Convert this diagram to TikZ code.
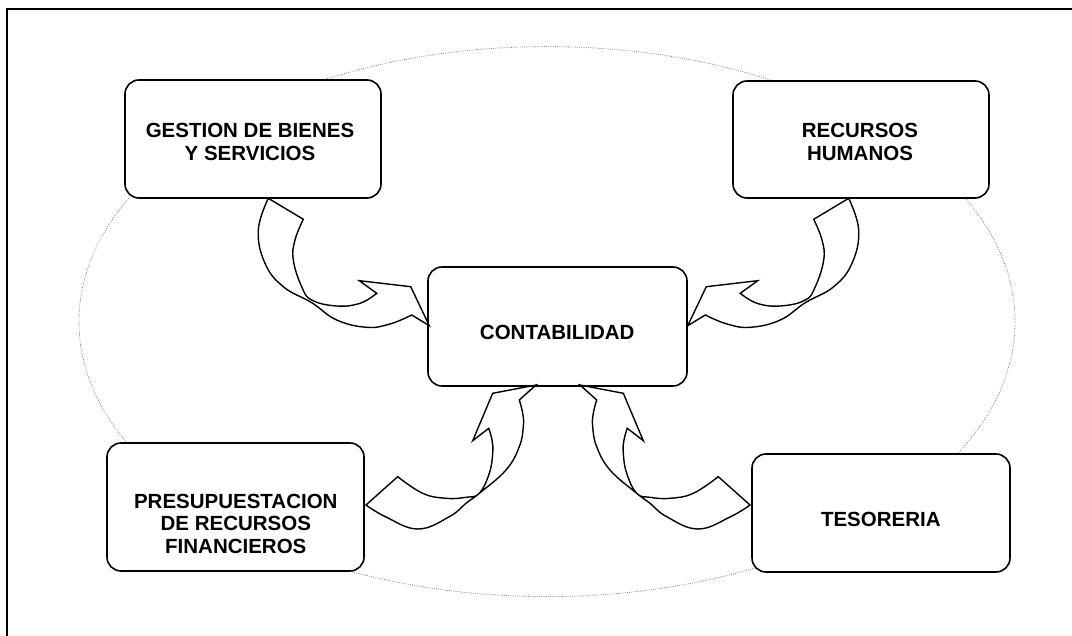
\documentclass[tikz,border=0pt]{standalone}
\usepackage{fontspec}
\setmainfont{Liberation Sans}
\begin{document}
\begin{tikzpicture}[x=1pt,y=-1pt,
  box/.style={draw, line width=1.6pt, rounded corners=14pt, fill=white, inner sep=0pt},
  lbl/.style={font=\bfseries\fontsize{20.5}{22.6}\selectfont, align=center, inner sep=0pt},
  arr/.style={draw, line width=1.4pt, line join=miter},
  arrowone/.pic={
    \path[arr] plot[smooth, tension=0.7] coordinates {(268.3,198.3) (258.3,230) (265,263.3) (283.3,286.7) (311.7,302.7) (336.7,320) (366.7,327.3) (390,324) (411.7,315)}
      -- (429.3,325.7) -- (410.7,286.7) -- (359.3,280.7) -- (376.7,293.3)
      -- plot[smooth, tension=0.7] coordinates {(376.7,293.3) (360,303.3) (336.7,306) (311.7,300) (301.7,286.7) (293.3,260) (295,240) (303.3,219.3)}
      -- cycle;
  },
  arrowtwo/.pic={
    \path[arr] plot[smooth, tension=0.7] coordinates {(750,505) (730,517) (698,529) (666.7,516.7) (650,503.3) (636.7,493.3) (610,470) (596.7,446.7) (592.7,426.7) (593.3,413.3) (596.7,400)}
      -- (580,385) -- (623.3,393.3) -- (643.3,440.7) -- (627.3,428.3)
      -- plot[smooth, tension=0.7] coordinates {(627.3,428.3) (624,440) (623.3,453.3) (626.7,473.3) (636.7,493.3) (650,497.3) (670,498.3) (693.3,493.3) (718.3,476.7)}
      -- cycle;
  }]
\useasboundingbox (0,0) rectangle (1072,636);
\clip (0,0) rectangle (1072,636);
% outer frame
\draw[line width=1.6pt] (7,9) rectangle (1090,660);
% dotted ellipse
\draw[gray, line width=0.8pt, dash pattern=on 0.8pt off 1.4pt] (547,321.6) ellipse [x radius=468, y radius=275];
% boxes
\node[box, minimum width=256pt, minimum height=118pt] (ges) at (253,139) {};
\node[box, minimum width=256pt, minimum height=117pt] (rrhh) at (861,139.5) {};
\node[box, minimum width=259pt, minimum height=119pt] (cont) at (557.5,326.5) {};
\node[box, minimum width=257pt, minimum height=128pt] (pres) at (235.5,507) {};
\node[box, minimum width=258pt, minimum height=118pt] (tes) at (881,513) {};
% arrows
\pic at (0,0) {arrowone};
\pic[xscale=-1] at (1117,0) {arrowone};
\pic at (0,0) {arrowtwo};
\pic[xscale=-1] at (1116,0) {arrowtwo};
% labels
\node[lbl] (gestxt) at (250,142.2) {GESTION DE BIENES\\Y SERVICIOS};
\node[lbl] (rrhhtxt) at (860,142.2) {RECURSOS\\HUMANOS};
\node[lbl] (conttxt) at (557.2,332.7) {CONTABILIDAD};
\node[lbl] (prestxt) at (235.8,523.8) {PRESUPUESTACION\\DE RECURSOS\\FINANCIEROS};
\node[lbl] (testxt) at (880.8,519.3) {TESORERIA};
\end{tikzpicture}
\end{document}
